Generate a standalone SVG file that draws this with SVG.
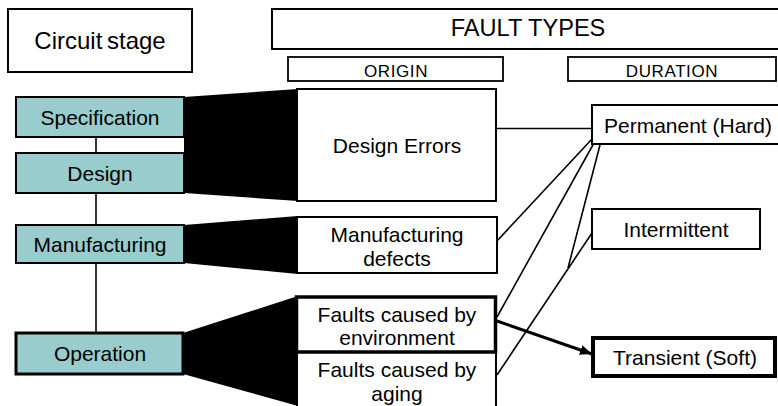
<svg xmlns="http://www.w3.org/2000/svg" width="778" height="406" viewBox="0 0 778 406">
  <defs>
    <style>
      text { font-family: "Liberation Sans", Arial, sans-serif; fill: #000; text-anchor: middle; }
      .box { fill: #fff; stroke: #000; stroke-width: 2; }
      .stage { fill: #99cccc; stroke: #000; stroke-width: 2; }
      .bold { stroke-width: 3.5; }
      .t21 { font-size: 21px; }
      .t24 { font-size: 24px; }
      .t17 { font-size: 17px; letter-spacing: 0.6px; }
      .funnel { fill: #000; stroke: none; }
      .link { stroke: #000; stroke-width: 1.6; fill: none; }
      .spine { stroke: #000; stroke-width: 1.6; fill: none; }
    </style>
    <marker id="arrow" viewBox="0 0 12 10" refX="12" refY="5" markerWidth="12" markerHeight="10" markerUnits="userSpaceOnUse" orient="auto">
      <path d="M0,0 L12,5 L0,10 Z" fill="#000"/>
    </marker>
  </defs>

  <rect width="778" height="406" fill="#fff"/>

  <!-- column headers -->
  <g id="header-stage">
    <rect class="box" x="8" y="9" width="184" height="63"/>
    <text class="t24" x="100" y="49" word-spacing="-2">Circuit stage</text>
  </g>
  <g id="header-fault-types">
    <rect class="box" x="272" y="9" width="520" height="40"/>
    <text class="t24" x="528" y="36" style="font-size:23.6px">FAULT TYPES</text>
  </g>
  <g id="header-origin">
    <rect class="box" x="288" y="57" width="215" height="24" style="stroke-width:1.8"/>
    <text class="t17" x="396" y="77">ORIGIN</text>
  </g>
  <g id="header-duration">
    <rect class="box" x="568" y="57" width="208" height="24" style="stroke-width:1.8"/>
    <text class="t17" x="672" y="77">DURATION</text>
  </g>

  <!-- funnels from stages to origins, plus the stage spine -->
  <g id="connectors">
    <polygon class="funnel" points="184,97 298,89 298,201 184,193"/>
    <polygon class="funnel" points="184,225 298,216 298,274 184,263"/>
    <polygon class="funnel" points="183,333 298,296 298,406 183,374"/>

    <line class="spine" x1="96" y1="137" x2="96" y2="153"/>
    <line class="spine" x1="96" y1="193" x2="96" y2="225"/>
    <line class="spine" x1="96" y1="263" x2="96" y2="333"/>

    <line class="link" x1="496" y1="128.5" x2="592" y2="128.5"/>
    <line class="link" x1="497" y1="241" x2="592" y2="139"/>
    <line class="link" x1="497" y1="317" x2="594" y2="143"/>
    <line class="link" x1="600" y1="145" x2="568" y2="268"/>
    <line class="link" x1="497" y1="375" x2="592" y2="233"/>
    <line stroke="#000" stroke-width="3" x1="497" y1="321" x2="592" y2="354" marker-end="url(#arrow)"/>
  </g>

  <!-- circuit stages -->
  <g id="stage-specification">
    <rect class="stage" x="16" y="97" width="168" height="40"/>
    <text class="t21" x="100" y="125">Specification</text>
  </g>
  <g id="stage-design">
    <rect class="stage" x="16" y="153" width="168" height="40"/>
    <text class="t21" x="100" y="180.5">Design</text>
  </g>
  <g id="stage-manufacturing">
    <rect class="stage" x="16" y="225" width="168" height="38"/>
    <text class="t21" x="100" y="252">Manufacturing</text>
  </g>
  <g id="stage-operation">
    <rect class="stage" x="16" y="333" width="167" height="41" style="stroke-width:3"/>
    <text class="t21" x="100" y="361">Operation</text>
  </g>

  <!-- fault origins -->
  <g id="origin-design-errors">
    <rect class="box" x="297" y="89" width="199" height="112"/>
    <text class="t21" x="397" y="152.5">Design Errors</text>
  </g>
  <g id="origin-manufacturing-defects">
    <rect class="box" x="297" y="217" width="200" height="56"/>
    <text class="t21" x="397" y="241.5">Manufacturing</text>
    <text class="t21" x="397" y="266">defects</text>
  </g>
  <g id="origin-aging">
    <rect class="box" x="297" y="352" width="199" height="70"/>
    <text class="t21" x="397" y="376.5">Faults caused by</text>
    <text class="t21" x="397" y="400.5">aging</text>
  </g>
  <g id="origin-environment">
    <rect class="box bold" x="296.5" y="297" width="199" height="55"/>
    <text class="t21" x="397" y="321.5">Faults caused by</text>
    <text class="t21" x="397" y="345">environment</text>
  </g>

  <!-- fault durations -->
  <g id="duration-permanent">
    <rect class="box" x="592" y="105" width="200" height="39"/>
    <text class="t21" x="688" y="133">Permanent (Hard)</text>
  </g>
  <g id="duration-intermittent">
    <rect class="box" x="592" y="209" width="168" height="40"/>
    <text class="t21" x="676" y="237">Intermittent</text>
  </g>
  <g id="duration-transient">
    <rect class="box" x="593" y="338" width="182" height="38" style="stroke-width:4"/>
    <text class="t21" x="685" y="365">Transient (Soft)</text>
  </g>
</svg>
